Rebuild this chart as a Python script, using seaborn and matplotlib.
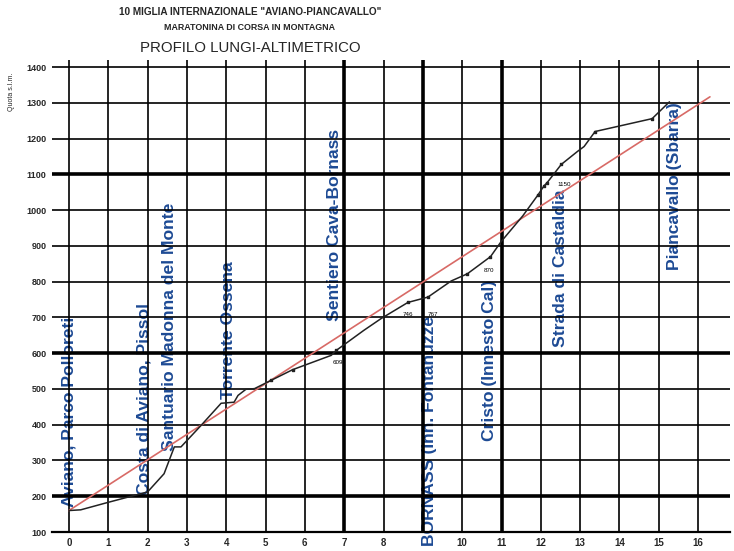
import matplotlib
matplotlib.use("Agg")
import matplotlib.pyplot as plt
import seaborn as sns
import pandas as pd

# profilo altimetrico (km, quota s.l.m.)
km = [0, 0.3, 1.0, 2.0, 2.42, 2.68, 2.85, 3.36, 3.87, 4.2, 4.3, 4.5, 4.72, 5.14,
      5.69, 6.67, 6.8, 7.5, 7.94, 8.62, 9.13, 9.72, 10.13, 10.72, 10.99, 11.54,
      11.93, 12.08, 12.16, 12.52, 12.94, 13.1, 13.38, 14.83, 15.27]
quota = [160, 162, 183, 212, 263, 338, 338, 398, 460, 463, 482, 499, 501, 524,
         554, 594, 608, 664, 697, 742, 757, 802, 822, 870, 912, 984,
         1043, 1068, 1077, 1128, 1165, 1178, 1220, 1256, 1303]

# punti marcati sul profilo
mark_km = [5.14, 5.69, 6.8, 8.62, 9.13, 10.13, 10.72, 11.93, 12.08, 12.16, 12.52, 13.38, 14.83]
mark_q = [524, 554, 608, 742, 757, 822, 870, 1043, 1068, 1077, 1128, 1220, 1256]

# pendenza media (retta rossa)
retta_km = [0, 16.3]
retta_q = [160, 1317]

# quote scritte
quote_txt = ["609", "746", "767", "870", "1150"]
quote_km = [6.84, 8.62, 9.25, 10.69, 12.59]
quote_q = [573, 709, 709, 832, 1072]

# località (centro della scritta)
loc_nome = ["Aviano, Parco Polloreti", "Costa di Aviano, Pissol", "Santuario Madonna del Monte",
            "Torrente Ossena", "Sentiero Cava-Bornass", "BORNASS (Inn. Fontanuzze",
            "Cristo (Innesto Cal)", "Strada di Castaldia", "Piancavallo (Sbarra)"]
loc_km = [0.0, 1.9, 2.57, 4.07, 6.75, 9.16, 10.7, 12.5, 15.4]
loc_q = [436, 471, 675, 664, 960, 382, 580, 837, 1066]

xticks = list(range(0, 17))
xlabels = [str(v) if v != 9 else "" for v in xticks]
yticks = list(range(100, 1500, 100))
thick_x = [7, 9, 11]
thick_y = [200, 600, 1100]

sns.set_style("white")
plt.rcParams['font.family'] = ['Liberation Sans', 'DejaVu Sans']

fig = plt.figure(figsize=(7.34, 5.51), dpi=100)
ax = fig.add_axes([52/734, 1 - 532/551, (730 - 52)/734, (532 - 60)/551])

for v in xticks:
    ax.axvline(v, color='black', lw=2.6 if v in thick_x else 1.2, zorder=1)
for v in yticks:
    ax.axhline(v, color='black', lw=2.6 if v in thick_y else 1.2, zorder=1)

df = pd.DataFrame({'km': km, 'quota': quota})
sns.lineplot(data=df, x='km', y='quota', color='#222222', lw=1.1, ax=ax, zorder=3)
sns.lineplot(x=retta_km, y=retta_q, color='#d86a66', lw=1.2, ax=ax, zorder=2)
ax.scatter(mark_km, mark_q, marker='s', s=4, color='#222222', zorder=4)

for t, x, y in zip(quote_txt, quote_km, quote_q):
    ax.text(x, y, t, fontsize=4.5, ha='center', va='center', color='black', zorder=5)

for t, x, y in zip(loc_nome, loc_km, loc_q):
    ax.text(x, y, t, rotation=90, ha='center', va='center', fontsize=12.6,
            fontweight='bold', color='#1d4a94', clip_on=False, zorder=0.5)

ax.set_xlim(-0.43, 16.81)
ax.set_ylim(100, 1420)
ax.set_xticks(xticks)
ax.set_xticklabels(xlabels, fontsize=7, fontweight='bold')
ax.set_yticks(yticks)
ax.set_yticklabels([str(v) for v in yticks], fontsize=6.5, fontweight='bold')
ax.tick_params(length=0, pad=4)
ax.set_xlabel('')
ax.set_ylabel('')
for s in ['top', 'right', 'left']:
    ax.spines[s].set_visible(False)
ax.spines['bottom'].set_linewidth(1.6)
ax.spines['bottom'].set_color('black')

fig.text(12/734, 1 - 92/551, 'Quota s.l.m.', rotation=90, fontsize=5, ha='center', va='center')
fig.text(250/734, 1 - 12/551, '10 MIGLIA INTERNAZIONALE "AVIANO-PIANCAVALLO"',
         fontsize=7.2, fontweight='bold', ha='center', va='center')
fig.text(250/734, 1 - 27/551, 'MARATONINA DI CORSA IN MONTAGNA',
         fontsize=6.4, fontweight='bold', ha='center', va='center')
fig.text(250/734, 1 - 48/551, 'PROFILO LUNGI-ALTIMETRICO',
         fontsize=10.8, ha='center', va='center')

fig.savefig('out.png', dpi=100)
